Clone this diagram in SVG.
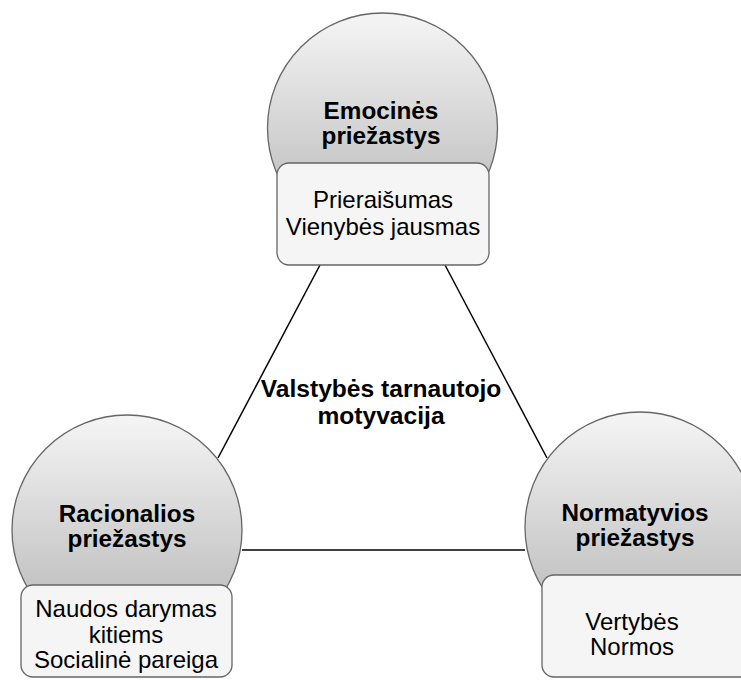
<svg xmlns="http://www.w3.org/2000/svg" width="741" height="680" viewBox="0 0 741 680">
<defs>
<linearGradient id="g" x1="0" y1="0" x2="0" y2="1">
<stop offset="0" stop-color="#f5f5f5"/>
<stop offset="1" stop-color="#b3b3b3"/>
</linearGradient>
<style>
.c{fill:url(#g);stroke:#666;stroke-width:1.3}
.b{fill:#f5f5f5;stroke:#666;stroke-width:1.3}
.t{font-family:"Liberation Sans",Arial,sans-serif;font-size:24.3px;font-weight:bold;text-anchor:middle;fill:#000}
.r{font-family:"Liberation Sans",Arial,sans-serif;font-size:24px;text-anchor:middle;fill:#000}
.l{stroke:#000;stroke-width:1.5;fill:none}
</style>
</defs>
<rect width="741" height="680" fill="#fff"/>
<g id="connectors">
<line class="l" x1="320" y1="265" x2="218" y2="458"/>
<line class="l" x1="445" y1="265" x2="547" y2="458"/>
<line class="l" x1="242" y1="550" x2="525" y2="550"/>
</g>
<g id="center">
<text class="t" x="381" y="397" style="font-size:24.6px">Valstybės tarnautojo</text>
<text class="t" x="381" y="424" style="font-size:24.6px">motyvacija</text>
</g>
<g id="emocines">
<circle class="c" cx="382.5" cy="128" r="115"/>
<text class="t" x="381" y="119">Emocinės</text>
<text class="t" x="381" y="144">priežastys</text>
</g>
<g id="emocines-box">
<rect class="b" x="277" y="163" width="212" height="102" rx="12"/>
<text class="r" x="383" y="208">Prieraišumas</text>
<text class="r" x="383" y="235">Vienybės jausmas</text>
</g>
<g id="racionalios">
<circle class="c" cx="127" cy="530" r="115"/>
<text class="t" x="127" y="522">Racionalios</text>
<text class="t" x="127" y="547">priežastys</text>
</g>
<g id="racionalios-box">
<rect class="b" x="21" y="585" width="211" height="92" rx="12"/>
<text class="r" x="126" y="617">Naudos darymas</text>
<text class="r" x="126" y="643">kitiems</text>
<text class="r" x="126" y="668">Socialinė pareiga</text>
</g>
<g id="normatyvios">
<circle class="c" cx="640" cy="527" r="115"/>
<text class="t" x="635" y="521">Normatyvios</text>
<text class="t" x="635" y="546">priežastys</text>
</g>
<g id="normatyvios-box">
<rect class="b" x="542" y="575" width="212" height="102" rx="12"/>
<text class="r" x="632" y="630">Vertybės</text>
<text class="r" x="632" y="655">Normos</text>
</g>
</svg>
